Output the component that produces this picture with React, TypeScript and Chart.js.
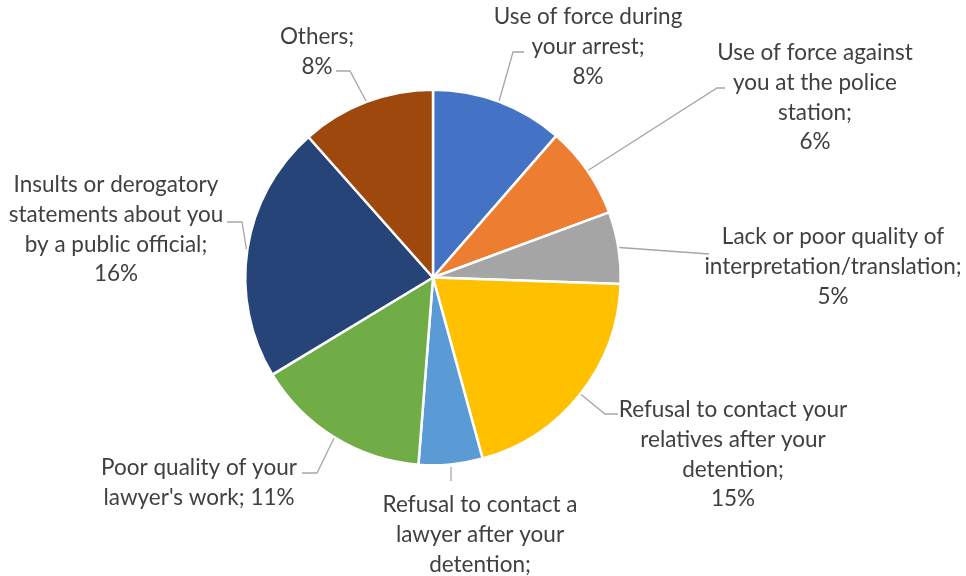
import React, { useEffect, useRef } from "react";
import { Chart, registerables } from "chart.js";

Chart.register(...registerables);

// ---- data ----
const categories = [
  "Use of force during\nyour arrest",
  "Use of force against\nyou at the police\nstation",
  "Lack or poor quality of\ninterpretation/translation",
  "Refusal to contact your\nrelatives after your\ndetention",
  "Refusal to contact a\nlawyer after your\ndetention",
  "Poor quality of your\nlawyer's work",
  "Insults or derogatory\nstatements about you\nby a public official",
  "Others",
];
const values = [8.3, 5.8, 4.5, 14.7, 4.0, 11.0, 16.1, 8.4];
const colors = [
  "#4472C4",
  "#ED7D31",
  "#A5A5A5",
  "#FFC000",
  "#5B9BD5",
  "#70AD47",
  "#264478",
  "#9E480E",
];
const percentSeparators = ["\n", "\n", "\n", "\n", "\n", " ", "\n", "\n"];

// ---- label layout (offsets from pie centre, px) ----
const LABEL_LAYOUT = [
  { x: 155, y: -260.5, leader: [[80, -225.5], [91, -225.5]] },
  { x: 382, y: -224.5, leader: [[284, -189.5], [292, -189.5]] },
  { x: 400, y: -40.5, leader: [[276, -23.5]] },
  { x: 300, y: 132.5, leader: [[172, 136.5], [185, 136.5]] },
  { x: 47, y: 227.5, leader: [[18, 189.5], [18, 203.5]] },
  { x: -234, y: 190.5, leader: [[-116, 195.5], [-131, 195.5]] },
  { x: -317, y: -92.5, leader: [[-191, -55.5], [-206, -55.5]] },
  { x: -116, y: -240.5, leader: [[-83, -206.5], [-97, -206.5]] },
];
const FONT_SIZE = 22.5;
const LINE_H = 29.7;
const FONT_FAMILY = "Lato, 'Open Sans', sans-serif";

const labelPlugin = {
  id: "outsideLabels",
  afterDatasetsDraw(chart: any) {
    const ctx = chart.ctx;
    const meta = chart.getDatasetMeta(0);
    const data = chart.data.datasets[0].data as number[];
    ctx.save();
    meta.data.forEach((arc: any, i: number) => {
      const p = arc.getProps(["x", "y", "startAngle", "endAngle", "outerRadius"], true);
      const mid = (p.startAngle + p.endAngle) / 2;
      const L = LABEL_LAYOUT[i];
      const sx = p.x + Math.cos(mid) * (p.outerRadius + 1);
      const sy = p.y + Math.sin(mid) * (p.outerRadius + 1);
      const isVertical = i === 4;
      ctx.strokeStyle = "#A6A6A6";
      ctx.lineWidth = 1.3;
      ctx.beginPath();
      if (isVertical) {
        ctx.moveTo(p.x + L.leader[0][0], p.y + L.leader[0][1]);
      } else {
        ctx.moveTo(sx, sy);
      }
      L.leader.forEach((pt: number[]) => ctx.lineTo(p.x + pt[0], p.y + pt[1]));
      ctx.stroke();

      const text =
        chart.data.labels[i] + ";" + percentSeparators[i] + Math.round(data[i]) + "%";
      const lines = text.split("\n");
      ctx.font = `${FONT_SIZE}px ${FONT_FAMILY}`;
      ctx.fillStyle = "#404040";
      ctx.textAlign = "center";
      ctx.textBaseline = "middle";
      lines.forEach((line: string, k: number) => {
        ctx.fillText(line, p.x + L.x, p.y + L.y + k * LINE_H);
      });
    });
    ctx.restore();
  },
};

export default function App() {
  const ref = useRef<HTMLCanvasElement | null>(null);
  useEffect(() => {
    if (!ref.current) return;
    const chart = new Chart(ref.current, {
      type: "pie",
      data: {
        labels: categories,
        datasets: [
          {
            data: values,
            backgroundColor: colors,
            borderColor: "#FFFFFF",
            borderWidth: 2.5,
          },
        ],
      },
      options: {
        responsive: false,
        animation: false,
        layout: { padding: { top: 88.5, bottom: 109.5, left: 244, right: 344 } },
        plugins: {
          legend: { display: false },
          tooltip: { enabled: false },
        },
      },
      plugins: [labelPlugin],
    });
    return () => chart.destroy();
  }, []);
  return (
    <div style={{ position: "fixed", left: 0, top: 0, width: 966, height: 576, background: "#fff" }}>
      <canvas ref={ref} width={966} height={576} />
    </div>
  );
}
